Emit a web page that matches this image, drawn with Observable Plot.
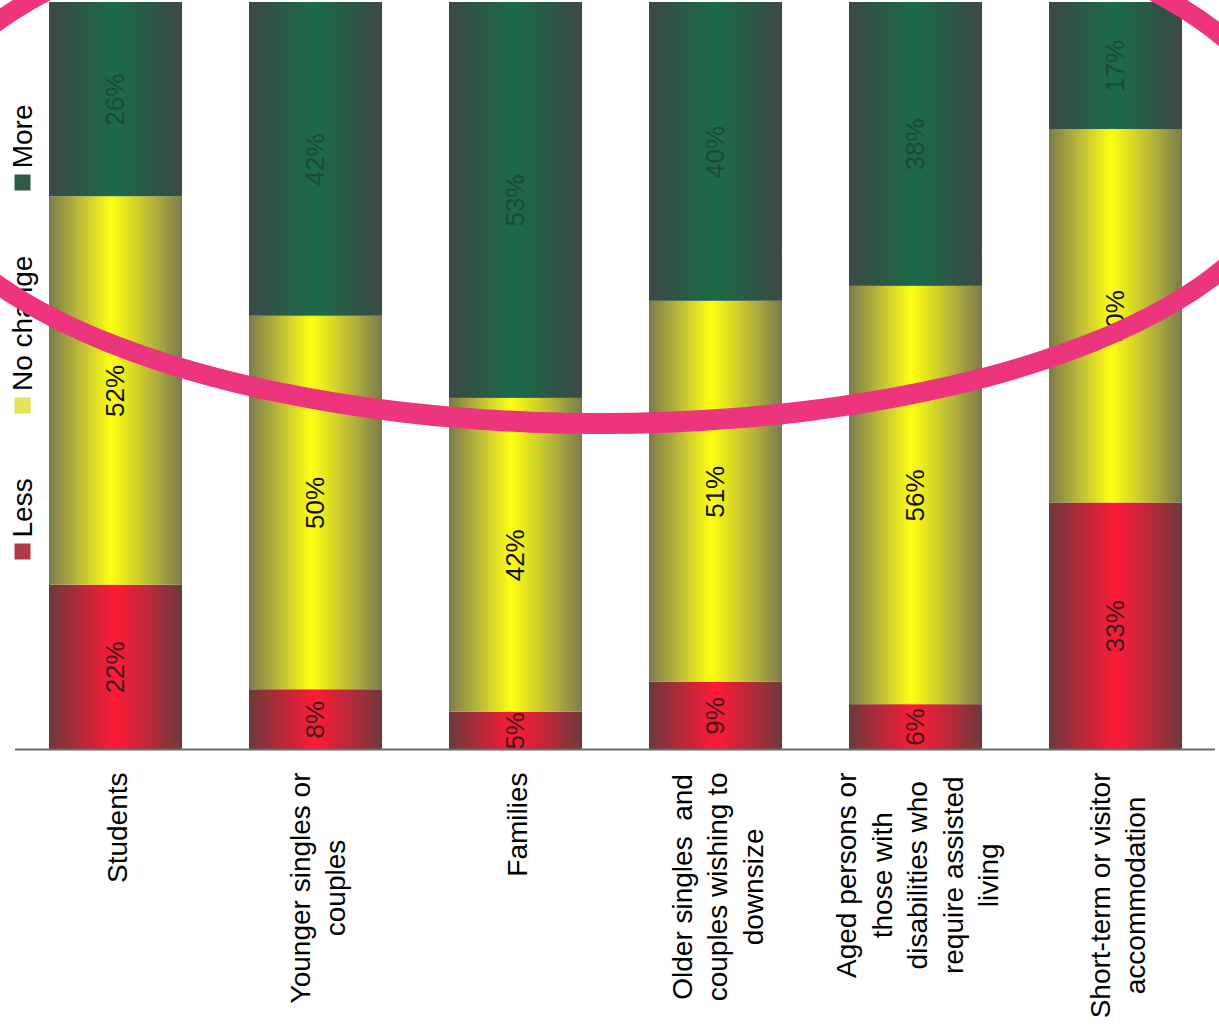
<!DOCTYPE html>
<html>
<head>
<meta charset="utf-8">
<script src="https://cdn.jsdelivr.net/npm/d3@7"></script>
<script src="https://cdn.jsdelivr.net/npm/@observablehq/plot@0.6"></script>
<style>
  body { margin: 0; background: #fff; overflow: hidden; }
  #wrap { position: relative; width: 1219px; height: 1030px; overflow: hidden; font-family: "Liberation Sans", Arial, sans-serif; }
  #legend { position: absolute; width: 455px; height: 30px; left: -205px; top: 317px; transform: rotate(-90deg);
            display: flex; justify-content: space-between; align-items: center; font-size: 28px; color: #000; }
  #legend .item { display: flex; align-items: center; white-space: nowrap; }
  #legend .sw { width: 16px; height: 16px; margin-right: 6px; }
  #ring { position: absolute; box-sizing: border-box; left: -100px; top: -128px; width: 1400px; height: 562px;
          border: 21px solid #ec357c; border-radius: 50%; pointer-events: none; }
</style>
</head>
<body>
<div id="wrap"></div>
<script>
const categories = ["Students", "Younger singles or couples", "Families", "Older singles and couples wishing to downsize", "Aged persons or those with disabilities who require assisted living", "Short-term or visitor accommodation"];
const tickLabels = ["Students", "Younger singles or\ncouples", "Families", "Older singles  and\ncouples wishing to\ndownsize", "Aged persons or\nthose with\ndisabilities who\nrequire assisted\nliving", "Short-term or visitor\naccommodation"];
const series = ["Less", "No change", "More"];
const less = [22, 8, 5, 9, 6, 33];
const noChange = [52, 50, 42, 51, 56, 50];
const more = [26, 42, 53, 40, 38, 17];

const seriesValues = [less, noChange, more];
const data = categories.flatMap((c, i) => series.map((s, k) => ({cat: c, series: s, value: seriesValues[k][i]})));

const barFill = {"Less": "url(#gLess)", "No change": "url(#gNo)", "More": "url(#gMore)"};
const labelFill = {"Less": "#3e1a1e", "No change": "#111111", "More": "#1d4a38"};
const swatch = {"Less": "#b23a47", "No change": "#e6e35a", "More": "#2f5a48"};

// measure longest line of each category label so the block starts just under the axis
const ctx = document.createElement("canvas").getContext("2d");
ctx.font = "28px 'Liberation Sans', Arial, sans-serif";
const longest = tickLabels.map(t => d3.max(t.split("\n"), l => ctx.measureText(l).width));

const svg = Plot.plot({
  width: 1219,
  height: 1030,
  marginTop: 2,
  marginBottom: 281,
  marginLeft: 15,
  marginRight: 4,
  style: {fontFamily: "'Liberation Sans', Arial, sans-serif", background: "#fff"},
  x: {domain: categories, axis: null, paddingInner: 0.335, paddingOuter: 0.1675},
  y: {domain: [0, 100], axis: null},
  color: {type: "identity"},
  marks: [
    Plot.barY(data, {x: "cat", y: "value", fill: d => barFill[d.series]}),
    Plot.text(data, Plot.stackY({x: "cat", y: "value", text: d => d.value + "%", rotate: -90,
      fill: d => labelFill[d.series], fontSize: 26})),
    Plot.ruleY([0], {stroke: "#6a6a6a", strokeWidth: 2}),
    ...categories.map((c, i) => Plot.text([c], {x: d => d, frameAnchor: "bottom", dy: 23 + longest[i] / 2,
      text: () => tickLabels[i], rotate: -90, textAnchor: "middle", lineAnchor: "middle",
      lineHeight: 1.27, fontSize: 28, fill: "#000"}))
  ]
});

const defs = d3.select(svg).insert("defs", ":first-child");
const grads = {
  gLess: [[0, "#6c3a3c"], [0.2, "#a92c3a"], [0.5, "#ff1a36"], [0.8, "#ac2c3a"], [1, "#6c3a3c"]],
  gNo:   [[0, "#7a7b4a"], [0.2, "#b3b23c"], [0.47, "#ffff12"], [0.8, "#b0af3c"], [1, "#7a7b4a"]],
  gMore: [[0, "#3c4a45"], [0.2, "#2e5546"], [0.5, "#1b6b49"], [0.8, "#2e5546"], [1, "#3c4a45"]]
};
for (const [id, stops] of Object.entries(grads)) {
  const g = defs.append("linearGradient").attr("id", id).attr("x1", 0).attr("x2", 1).attr("y1", 0).attr("y2", 0);
  for (const [o, c] of stops) g.append("stop").attr("offset", o).attr("stop-color", c);
}

const wrap = document.getElementById("wrap");
wrap.appendChild(svg);

const legend = document.createElement("div");
legend.id = "legend";
for (const s of series) {
  const item = document.createElement("div");
  item.className = "item";
  const sw = document.createElement("span");
  sw.className = "sw";
  sw.style.background = swatch[s];
  const tx = document.createElement("span");
  tx.textContent = s;
  item.appendChild(sw);
  item.appendChild(tx);
  legend.appendChild(item);
}
wrap.appendChild(legend);

const ring = document.createElement("div");
ring.id = "ring";
wrap.appendChild(ring);
</script>
</body>
</html>
